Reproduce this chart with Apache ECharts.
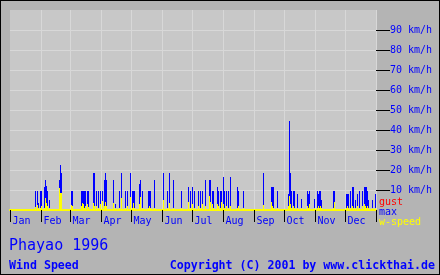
<!DOCTYPE html>
<html><head><meta charset="utf-8">
<script src="https://cdn.jsdelivr.net/npm/echarts@6/dist/echarts.min.js"></script>
<style>
html,body{margin:0;padding:0;background:#b4b4b4;}
#wrap{position:relative;width:440px;height:275px;}
#chart{width:440px;height:275px;}
#frame{position:absolute;left:0;top:0;width:440px;height:275px;box-sizing:border-box;border:1px solid #000;pointer-events:none;}
</style></head><body>
<div id="wrap"><div id="chart"></div><div id="frame"></div></div>
<script>
// ---- data (1996 is a leap year: 366 days, day 0 = 1 Jan) ----
const monthNames = ['Jan','Feb','Mar','Apr','May','Jun','Jul','Aug','Sep','Oct','Nov','Dec'];
const monthStartDays = [0,31,60,91,121,152,182,213,244,274,305,335];
const yTickValues = [10,20,30,40,50,60,70,80,90];
const dayCount = 366;
const days = [25,27,28,30,31,34,35,36,37,39,49,50,51,61,62,71,72,73,74,75,77,78,83,84,86,88,90,92,94,95,96,103,105,109,111,115,117,120,122,123,124,129,130,132,138,139,140,144,153,157,159,163,171,178,180,182,184,188,190,192,195,199,200,202,203,207,208,210,211,213,214,216,218,220,227,228,233,253,261,262,263,267,278,279,280,281,283,284,287,291,297,298,299,304,307,308,309,310,311,323,324,336,337,338,340,342,343,345,347,349,352,354,355,356,357,358,362,365];
const maxKmh = [9.5,9.5,3.5,9.5,9.5,11.5,15,12,9.5,5,15,22.5,18.5,9.5,9.5,9.5,9.5,9.5,9.5,9.5,9.5,9.5,18.5,18.5,9.5,9.5,9.5,9.5,15,18.5,15,15,3,9.5,18.5,9.5,9.5,18.5,9.5,9.5,9.5,13,15,9.5,9.5,9.5,9.5,15,18.5,9.5,18.5,15,9.5,11.5,9.5,11.5,9.5,9.5,9.5,9.5,15,15,15,9.5,9.5,11.5,9.5,9.5,9.5,16.5,9.5,9.5,9.5,16.5,11.5,9.5,9.5,18.5,11.5,11.5,11.5,9.5,8,44.5,18.5,9.5,9.5,9.5,8,5.5,9.5,8,9.5,5.5,9.5,8,9.5,9.5,5,9.5,9.5,8,8,8,9.5,11.5,11.5,5,8,9.5,9.5,11.5,11.5,11.5,9.5,5,5,8];
const speedKmh = [1.5,2.5,1,1,2,1,6,3.5,2,1,11,8.5,8.5,2.5,2,2,3.5,3,1,2,3,1.5,3.5,2,2,1,3,4.5,2,4,2,3.5,1,1,6,1,2,6.5,1,3.5,1,3,6.5,1,1,2,1,1,5,1,3.5,1,1,4,1,3,1,2,1,3,2,7,4,3,1,3,2,1,4,3,1,2,1,2,1,2,1,2.5,4,2,1,1,2,7,3,1,2,1,1,1,2,1,3,1,1,2,1,2,1,1,4,1,2,1,1,2,1,1,2,1,2,3,2,1,2,1,1,1];
const gustKmh = []; // no gust readings visible

// ---- build series arrays from the data ----
const categories = Array.from({length: dayCount}, (_, i) => String(i + 1));
const maxSeries = new Array(dayCount).fill(null);
const speedSeries = new Array(dayCount).fill(null);
days.forEach((d, i) => { maxSeries[d] = maxKmh[i]; speedSeries[d] = speedKmh[i]; });

const mono = '"DejaVu Sans Mono", "Liberation Mono", monospace';
const blue = '#0000ff';
const isMonthStart = (idx) => monthStartDays.includes(idx);

const chart = echarts.init(document.getElementById('chart'), null, {renderer: 'canvas'});
chart.setOption({
  animation: false,
  backgroundColor: '#b4b4b4',
  title: [
    {text: 'Phayao 1996', left: 9, top: 239, padding: 0,
     textStyle: {color: blue, fontSize: 15, fontWeight: 'normal', fontFamily: mono}},
    {text: 'Wind Speed', left: 9, top: 260, padding: 0,
     textStyle: {color: blue, fontSize: 11.6, fontWeight: 'bold', fontFamily: mono}},
    {text: 'Copyright (C) 2001 by www.clickthai.de', right: 5, top: 260, padding: 0,
     textStyle: {color: blue, fontSize: 11.6, fontWeight: 'bold', fontFamily: mono}}
  ],
  legend: {
    orient: 'vertical', left: 374, top: 197, padding: 0, itemGap: 0,
    itemWidth: 0, itemHeight: 10, icon: 'none', selectedMode: false,
    textStyle: {fontSize: 10, fontFamily: mono, lineHeight: 10},
    data: [
      {name: 'gust', textStyle: {color: '#ff0000'}},
      {name: 'max', textStyle: {color: blue}},
      {name: 'w-speed', textStyle: {color: '#ffff00'}}
    ]
  },
  grid: {left: 10, top: 10, width: 366, height: 200, show: true,
         backgroundColor: '#c8c8c8', borderWidth: 0, containLabel: false},
  xAxis: {
    type: 'category', data: categories, boundaryGap: true,
    axisLine: {show: true, lineStyle: {color: '#ffff00', width: 2}},
    axisTick: {show: true, length: 12, interval: (i) => isMonthStart(i),
               lineStyle: {color: '#000', width: 1}},
    axisLabel: {show: true, interval: (i) => isMonthStart(i), align: 'left',
                padding: [0, 0, 0, 2], margin: 6, color: blue, fontSize: 10, fontFamily: mono,
                formatter: (v, i) => monthNames[monthStartDays.indexOf(i)] || ''},
    splitLine: {show: true, interval: (i) => isMonthStart(i) && i > 0,
                lineStyle: {color: '#d8d8d8', width: 1}}
  },
  yAxis: {
    type: 'value', position: 'right', min: 0, max: 100, interval: 10,
    axisLine: {show: false},
    axisTick: {show: true, length: 14, customValues: yTickValues, lineStyle: {color: '#000', width: 1}},
    axisLabel: {show: true, customValues: yTickValues, margin: 14, formatter: '{value} km/h',
                color: blue, fontSize: 10, fontFamily: mono},
    splitLine: {show: true, lineStyle: {color: '#d8d8d8', width: 1}}
  },
  series: [
    {name: 'gust', type: 'bar', data: gustKmh, itemStyle: {color: '#ff0000'}, barWidth: 1, barGap: '-100%'},
    {name: 'max', type: 'bar', data: maxSeries, itemStyle: {color: blue}, barWidth: 1, barGap: '-100%'},
    {name: 'w-speed', type: 'bar', data: speedSeries, itemStyle: {color: '#ffff00'}, barWidth: 1, barGap: '-100%'}
  ]
});
</script>
</body></html>
